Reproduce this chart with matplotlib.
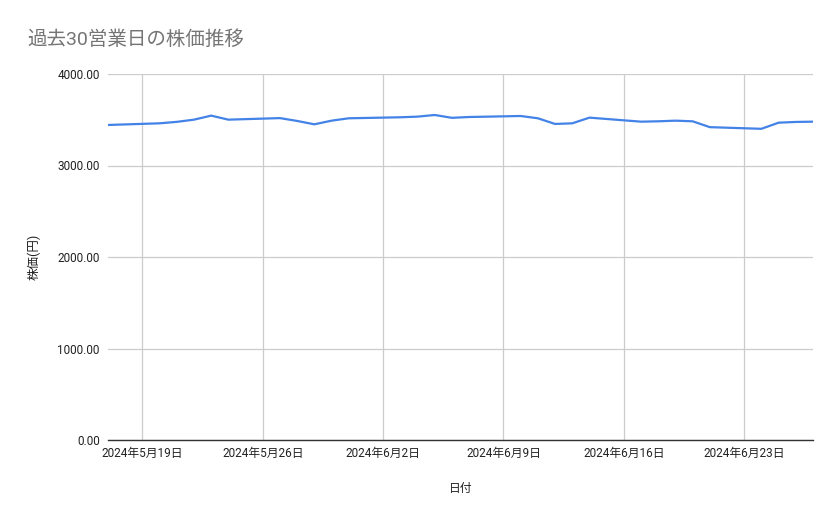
# 過去30営業日の株価推移をプロット
import datetime
import matplotlib
matplotlib.use("Agg")
import matplotlib.pyplot as plt
import matplotlib.dates as mdates
from matplotlib.ticker import FixedLocator, FuncFormatter

plt.rcParams['font.family'] = ['Roboto', 'Noto Sans CJK JP', 'DejaVu Sans']

# データ（営業日と終値）
hizuke = [
    "2024-05-17", "2024-05-20", "2024-05-21", "2024-05-22", "2024-05-23", "2024-05-24",
    "2024-05-27", "2024-05-28", "2024-05-29", "2024-05-30", "2024-05-31",
    "2024-06-03", "2024-06-04", "2024-06-05", "2024-06-06", "2024-06-07",
    "2024-06-10", "2024-06-11", "2024-06-12", "2024-06-13", "2024-06-14",
    "2024-06-17", "2024-06-18", "2024-06-19", "2024-06-20", "2024-06-21",
    "2024-06-24", "2024-06-25", "2024-06-26", "2024-06-27",
]
kabuka = [
    3443, 3461, 3477, 3501, 3545, 3501,
    3518, 3487, 3450, 3490, 3516,
    3527, 3534, 3552, 3521, 3530,
    3541, 3516, 3454, 3461, 3523,
    3479, 3483, 3490, 3483, 3419,
    3401, 3468, 3476, 3479,
]
y_ticks = [0, 1000, 2000, 3000, 4000]
x_ticks = ["2024-05-19", "2024-05-26", "2024-06-02", "2024-06-09", "2024-06-16", "2024-06-23"]

dt = [datetime.datetime.strptime(d, "%Y-%m-%d") for d in hizuke]
xt = [mdates.date2num(datetime.datetime.strptime(d, "%Y-%m-%d")) for d in x_ticks]


def nihon_hizuke(v, pos):
    d = mdates.num2date(v)
    return f"{d.year}年{d.month}月{d.day}日"


fig = plt.figure(figsize=(8.39, 5.19), dpi=100)
ax = fig.add_axes([108/839, 79/519, 705/839, 366/519])

ax.plot(dt, kabuka, color="#4382e6", linewidth=1.6, zorder=3)

ax.set_xlim(dt[0], dt[-1])
ax.set_ylim(0, 4000)
ax.yaxis.set_major_locator(FixedLocator(y_ticks))
ax.yaxis.set_major_formatter(FuncFormatter(lambda v, p: f"{v:.2f}"))
ax.xaxis.set_major_locator(FixedLocator(xt))
ax.xaxis.set_major_formatter(FuncFormatter(nihon_hizuke))

ax.grid(True, color="#cccccc", linewidth=0.9, zorder=0)
for s in ["top", "right", "left"]:
    ax.spines[s].set_visible(False)
ax.spines["bottom"].set_color("#333333")
ax.spines["bottom"].set_linewidth(1.0)
ax.spines["bottom"].set_zorder(4)
ax.tick_params(length=0, labelsize=8.5, labelcolor="#222222")
ax.tick_params(axis="y", pad=6)
ax.tick_params(axis="x", pad=5)

ax.set_xlabel("日付", fontsize=8.5, color="#222222", labelpad=16)
ax.set_ylabel("株価(円)", fontsize=9, color="#222222", labelpad=12)

fig.text(27/839, 1 - 40/519, "過去30営業日の株価推移", fontsize=14, color="#757575",
         va="center", ha="left")

fig.savefig("out.png", dpi=100)
